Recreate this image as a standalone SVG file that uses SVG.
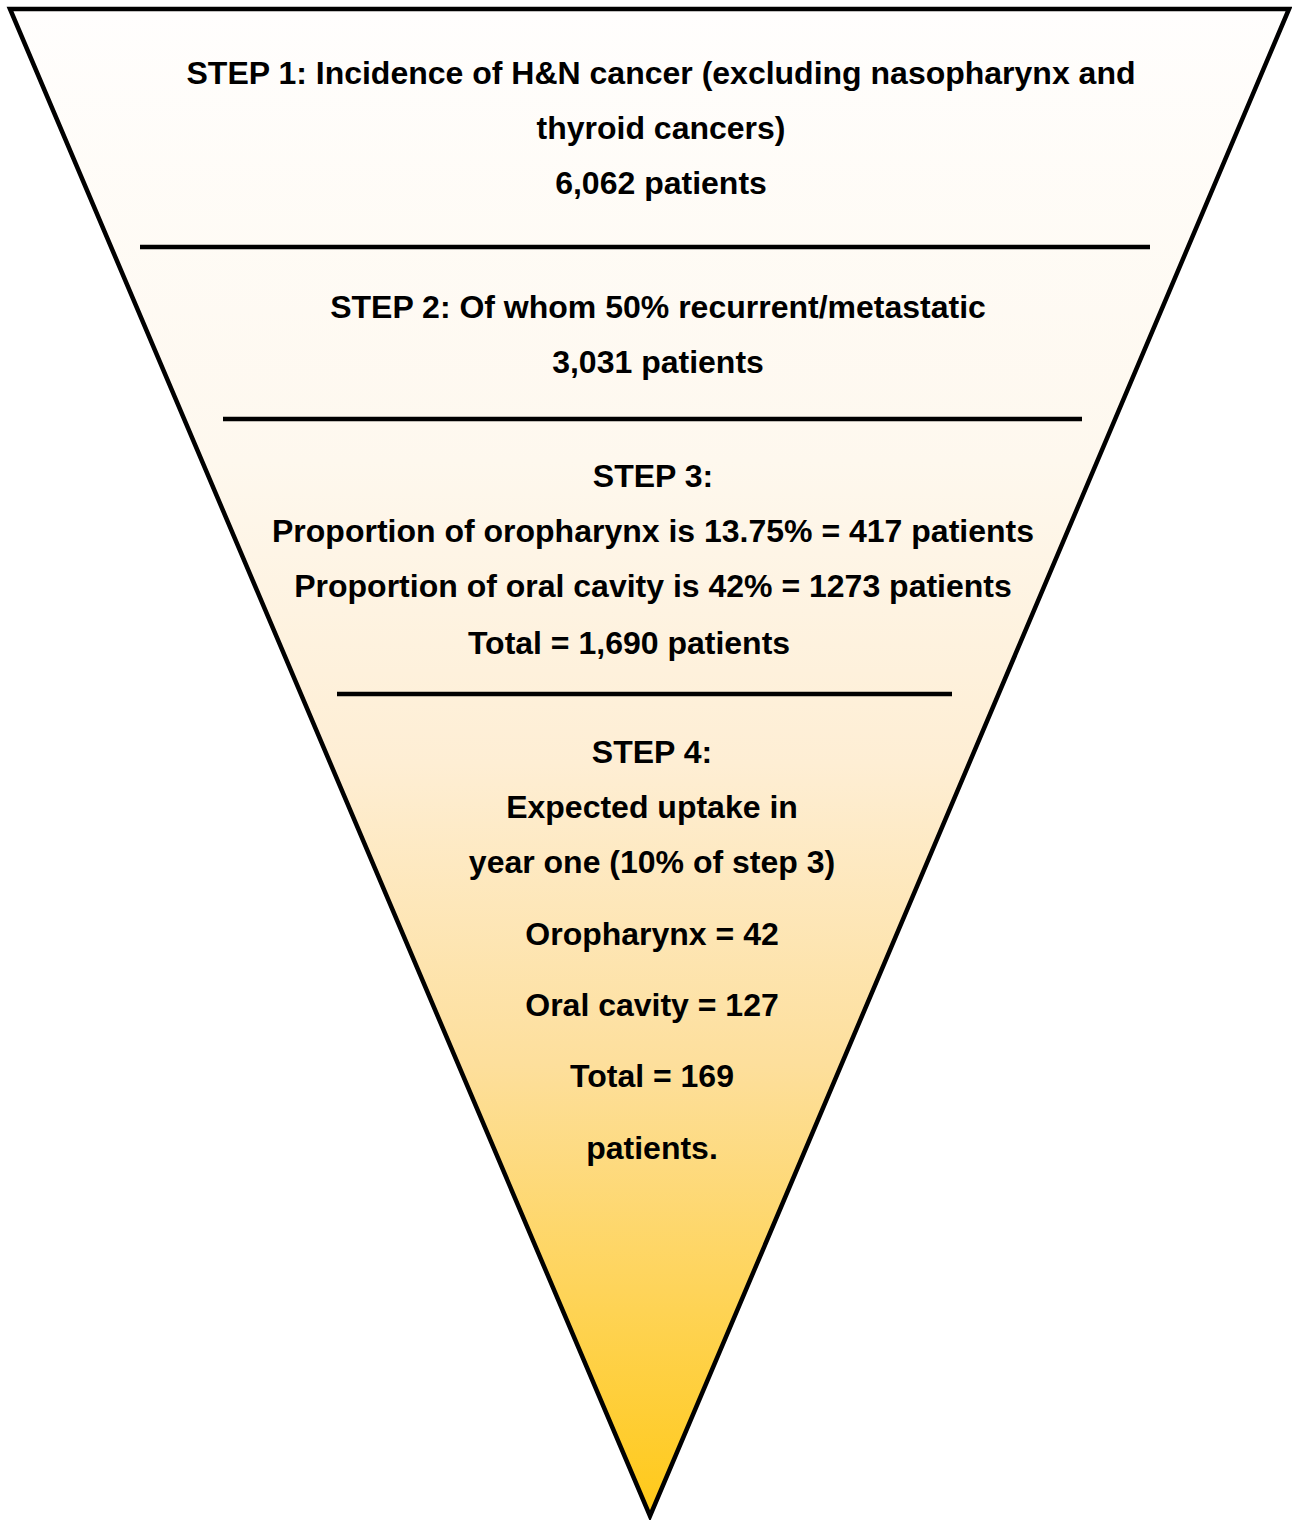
<svg xmlns="http://www.w3.org/2000/svg" width="1292" height="1520" viewBox="0 0 1292 1520">
<defs>
<linearGradient id="g" x1="0" y1="0" x2="0" y2="1">
<stop offset="0" stop-color="#FFFEFD"/>
<stop offset="0.3" stop-color="#FEF8EE"/>
<stop offset="0.5" stop-color="#FEEED4"/>
<stop offset="0.7" stop-color="#FDDF9C"/>
<stop offset="1" stop-color="#FFC918"/>
</linearGradient>
<style>
text{font-family:"Liberation Sans",Arial,sans-serif;font-weight:bold;font-size:32px;fill:#000;text-anchor:middle}
.sep{stroke:#000;stroke-width:4.5}
</style>
</defs>
<g id="funnel">
<polygon points="10,9 1289,9 650,1516" fill="url(#g)" stroke="#000" stroke-width="4.5" stroke-linejoin="miter"/>
</g>
<g id="connectors">
<line class="sep" x1="140" y1="247" x2="1150" y2="247"/>
<line class="sep" x1="223" y1="419" x2="1082" y2="419"/>
<line class="sep" x1="337" y1="694" x2="952" y2="694"/>
</g>
<g id="step1">
<text x="661" y="84">STEP 1: Incidence of H&amp;N cancer (excluding nasopharynx and</text>
<text x="661" y="139">thyroid cancers)</text>
<text x="661" y="194">6,062 patients</text>
</g>
<g id="step2">
<text x="658" y="318">STEP 2: Of whom 50% recurrent/metastatic</text>
<text x="658" y="373">3,031 patients</text>
</g>
<g id="step3">
<text x="653" y="487">STEP 3:</text>
<text x="653" y="542">Proportion of oropharynx is 13.75% = 417 patients</text>
<text x="653" y="597">Proportion of oral cavity is 42% = 1273 patients</text>
<text x="629" y="654">Total = 1,690 patients</text>
</g>
<g id="step4">
<text x="652" y="763">STEP 4:</text>
<text x="652" y="818">Expected uptake in</text>
<text x="652" y="873">year one (10% of step 3)</text>
<text x="652" y="945">Oropharynx = 42</text>
<text x="652" y="1016">Oral cavity = 127</text>
<text x="652" y="1087">Total = 169</text>
<text x="652" y="1159">patients.</text>
</g>
</svg>
